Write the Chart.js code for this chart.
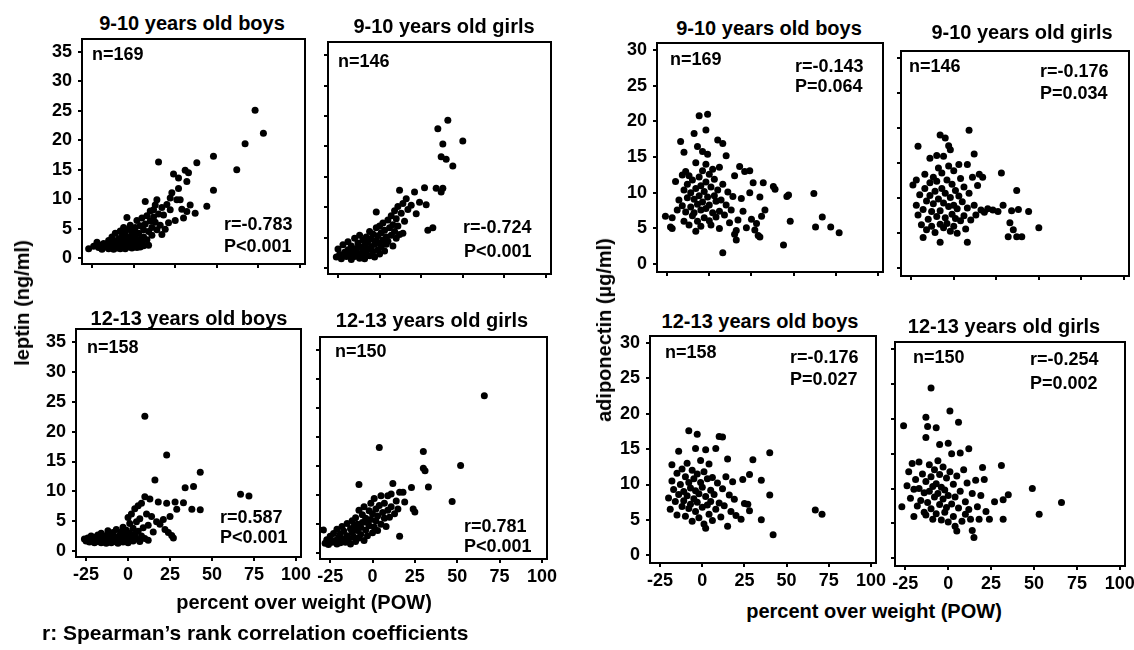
<!DOCTYPE html>
<html><head><meta charset="utf-8">
<script src="https://cdn.jsdelivr.net/npm/chart.js@4.4.1/dist/chart.umd.min.js"></script>
<style>
html,body{margin:0;padding:0;background:#fff;}
body{width:1134px;height:650px;position:relative;overflow:hidden;font-family:"Liberation Sans",Arial,sans-serif;color:#000;}
canvas{position:absolute;}
.t{position:absolute;white-space:nowrap;font-weight:bold;line-height:1;}
</style></head><body>
<script>
// ---------------- DATA ----------------
const xTicks = [-25, 0, 25, 50, 75, 100];
const leptinTicks = [0, 5, 10, 15, 20, 25, 30, 35];
const adipoTicks = [0, 5, 10, 15, 20, 25, 30];

const panelTitles = ['9-10 years old boys','9-10 years old girls','9-10 years old boys','9-10 years old girls',
                     '12-13 years old boys','12-13 years old girls','12-13 years old boys','12-13 years old girls'];
const nLabels = ['n=169','n=146','n=169','n=146','n=158','n=150','n=158','n=150'];
const rLabels = ['r=-0.783','r=-0.724','r=-0.143','r=-0.176','r=0.587','r=0.781','r=-0.176','r=-0.254'];
const pLabels = ['P<0.001','P<0.001','P=0.064','P=0.034','P<0.001','P<0.001','P=0.027','P=0.002'];

const leptinTitle = 'leptin (ng/ml)';
const adipoTitle = 'adiponectin (\u00b5g/ml)';
const xTitle = 'percent over weight (POW)';
const footnote = "r: Spearman\u2019s rank correlation coefficients";

// [POW, value] pairs
const leptinBoys910 = [[-27,1.6],[-24,2.0],[-22,2.7],[-21,1.8],[-20,2.2],[-19,1.5],[-18,2.5],[-17,1.9],[-16,2.1],[-15,3.0],[-15,1.6],[-14,2.3],[-13,1.8],[-13,3.6],[-12,2.6],[-12,1.5],[-11,2.0],[-11,4.2],[-10,2.9],[-10,1.7],[-9,3.3],[-9,2.2],[-8,1.6],[-8,4.6],[-8,2.8],[-7,3.8],[-7,2.1],[-6,1.8],[-6,2.6],[-6,5.2],[-5,3.1],[-5,4.4],[-5,1.6],[-4,2.3],[-4,3.6],[-4,6.9],[-3,1.9],[-3,2.8],[-3,4.9],[-2,3.3],[-2,2.1],[-2,5.6],[-1,1.7],[-1,4.1],[-1,2.6],[0,3.0],[0,1.9],[0,4.6],[1,2.3],[1,3.7],[1,5.2],[2,1.8],[2,2.9],[2,6.4],[3,4.2],[3,2.4],[4,3.2],[4,1.9],[4,5.5],[5,2.7],[5,6.8],[6,3.6],[6,4.8],[6,2.1],[7,9.6],[7,5.8],[8,3.1],[8,7.2],[9,2.2],[9,4.5],[10,6.3],[10,8.0],[11,5.2],[11,3.9],[12,7.0],[12,8.2],[13,9.0],[13,6.1],[14,9.9],[14,4.8],[15,16.3],[15,7.5],[16,5.6],[17,4.0],[17,8.6],[18,7.3],[19,4.9],[20,9.1],[21,6.0],[22,10.2],[22,8.2],[23,11.1],[24,14.3],[25,6.4],[26,9.9],[27,13.6],[27,11.8],[28,9.9],[29,8.3],[30,6.8],[31,14.9],[32,13.0],[32,7.9],[33,14.5],[34,9.0],[37,7.6],[38,16.2],[44,8.8],[48,11.5],[48,17.3],[62,15.0],[67,19.4],[73,25.1],[78,21.2]];

const leptinGirls910 = [[-26,1.8],[-25,3.1],[-24,2.2],[-23,1.5],[-22,3.8],[-21,2.6],[-20,1.9],[-19,4.3],[-19,3.0],[-18,2.2],[-17,1.4],[-17,3.6],[-16,2.7],[-15,4.9],[-15,1.9],[-14,3.2],[-13,2.4],[-13,4.1],[-12,1.6],[-12,5.4],[-11,3.4],[-11,2.1],[-10,4.6],[-10,2.8],[-9,3.7],[-9,1.5],[-8,5.1],[-8,2.4],[-7,3.1],[-7,4.3],[-6,2.0],[-6,6.0],[-5,3.5],[-5,4.8],[-4,2.7],[-4,5.6],[-3,3.9],[-3,1.8],[-2,9.2],[-2,4.5],[-2,6.6],[-1,3.0],[-1,5.3],[0,2.3],[0,4.1],[0,6.9],[1,3.5],[1,5.8],[2,4.6],[2,7.4],[3,2.8],[3,6.2],[4,3.9],[4,5.1],[5,7.9],[5,4.4],[6,6.6],[7,5.4],[7,8.6],[8,3.6],[8,7.1],[9,9.4],[9,6.0],[10,4.9],[10,8.1],[11,10.1],[11,6.9],[12,12.8],[12,5.5],[13,9.0],[14,5.7],[14,10.6],[15,7.7],[16,11.4],[17,9.6],[19,10.3],[21,12.5],[22,8.9],[24,10.8],[27,13.2],[28,10.4],[29,6.2],[32,6.6],[34,13.1],[37,12.5],[38,13.1],[35,22.9],[37,18.3],[38,20.4],[40,17.9],[41,24.3],[44,16.8],[50,20.9]];

const adipoBoys910 = [[-26,6.7],[-23,5.2],[-22,5.0],[-22,6.5],[-20,11.6],[-19,7.6],[-18,9.0],[-17,17.2],[-16,12.5],[-16,8.2],[-15,15.7],[-15,10.4],[-15,6.0],[-14,13.0],[-14,7.3],[-13,11.2],[-13,9.3],[-12,5.5],[-12,12.4],[-11,8.0],[-11,10.0],[-10,6.8],[-10,11.8],[-9,18.3],[-9,9.1],[-9,7.2],[-8,14.2],[-8,4.6],[-8,10.6],[-7,16.5],[-7,8.4],[-7,6.0],[-6,20.8],[-6,12.2],[-6,9.6],[-5,7.6],[-5,11.0],[-5,5.3],[-4,15.8],[-4,8.7],[-4,13.1],[-3,10.2],[-3,6.5],[-2,18.8],[-2,14.0],[-2,7.8],[-2,11.5],[-1,21.0],[-1,15.4],[-1,9.4],[0,6.1],[0,12.6],[0,8.3],[1,10.8],[1,5.5],[2,13.3],[2,7.2],[3,9.6],[3,11.9],[4,6.6],[4,8.8],[5,17.4],[5,10.4],[6,13.6],[6,7.4],[6,5.0],[7,9.0],[8,16.9],[8,11.2],[8,1.6],[9,6.9],[10,15.2],[10,8.3],[11,10.1],[12,5.8],[13,7.6],[14,9.5],[15,12.4],[15,4.2],[16,3.4],[16,4.7],[17,6.2],[18,13.7],[19,9.2],[20,7.4],[21,13.0],[22,5.1],[24,13.1],[24,10.0],[25,6.3],[26,11.4],[27,4.8],[28,5.7],[29,4.0],[30,9.4],[30,3.8],[31,6.7],[32,11.4],[33,7.6],[38,10.9],[39,10.5],[44,2.7],[46,9.5],[47,9.7],[48,6.0],[62,9.9],[63,5.2],[67,6.6],[72,5.2],[77,4.4]];

const adipoGirls910 = [[-24,11.9],[-22,12.6],[-21,17.4],[-22,9.0],[-21,7.6],[-20,10.5],[-19,6.2],[-18,4.4],[-18,8.4],[-17,11.4],[-17,13.4],[-16,5.5],[-16,9.6],[-15,7.0],[-14,12.2],[-14,15.7],[-14,10.4],[-13,8.1],[-13,6.0],[-12,13.0],[-12,9.2],[-11,11.0],[-11,5.1],[-10,16.1],[-10,7.4],[-10,12.4],[-9,9.9],[-9,14.3],[-8,19.0],[-8,3.7],[-8,8.2],[-8,6.3],[-7,11.4],[-7,13.6],[-6,16.0],[-6,9.3],[-6,5.8],[-5,18.6],[-5,7.2],[-5,10.7],[-4,12.6],[-4,6.4],[-3,17.5],[-3,8.8],[-3,14.6],[-2,16.9],[-2,5.3],[-2,10.1],[-1,7.7],[-1,12.0],[0,9.0],[0,6.0],[0,13.9],[1,11.1],[1,7.1],[2,8.5],[2,5.0],[3,14.8],[3,10.3],[4,6.8],[4,12.8],[5,9.5],[6,7.5],[6,11.6],[7,5.6],[8,14.8],[8,8.6],[8,3.7],[9,19.7],[9,10.7],[10,6.9],[11,13.0],[12,16.3],[12,9.0],[13,7.6],[14,11.8],[15,13.4],[16,8.3],[17,13.0],[18,8.0],[20,8.5],[23,8.3],[26,8.1],[28,13.6],[29,9.0],[32,4.5],[33,6.5],[34,8.2],[35,5.5],[37,11.1],[37,4.5],[38,8.4],[40,4.5],[44,8.1],[50,5.8]];

const leptinBoys1213 = [[-26,2.0],[-25,1.7],[-24,2.2],[-23,1.5],[-22,2.5],[-21,1.8],[-20,1.4],[-20,2.3],[-19,1.9],[-18,1.6],[-18,2.7],[-17,2.1],[-16,1.4],[-16,3.0],[-15,1.8],[-15,2.4],[-14,1.5],[-14,2.0],[-13,2.6],[-13,1.3],[-12,1.9],[-12,3.4],[-11,2.2],[-11,1.6],[-10,2.8],[-10,1.4],[-9,2.0],[-9,3.1],[-8,1.7],[-8,2.4],[-7,1.5],[-7,3.6],[-6,2.1],[-6,1.3],[-5,2.7],[-5,1.8],[-4,3.2],[-4,2.3],[-3,1.5],[-3,4.0],[-2,2.0],[-2,2.9],[-1,1.6],[-1,3.5],[0,2.4],[0,5.6],[0,1.4],[1,4.6],[1,3.0],[1,1.9],[2,2.4],[2,6.2],[3,3.8],[3,1.7],[4,7.1],[4,2.8],[5,4.9],[5,2.0],[6,7.6],[6,3.3],[7,1.6],[7,5.4],[8,8.0],[8,2.5],[9,3.9],[10,9.1],[10,22.6],[10,2.1],[11,6.2],[12,4.3],[12,1.8],[13,8.7],[14,5.8],[15,3.2],[16,11.9],[17,4.9],[18,8.2],[19,4.5],[21,5.3],[22,3.6],[23,8.0],[23,16.1],[24,3.1],[25,5.8],[26,2.6],[27,2.2],[28,8.2],[29,7.0],[33,8.1],[34,10.6],[38,7.0],[39,10.8],[43,6.9],[43,13.2],[67,9.5],[72,9.2]];

const leptinGirls1213 = [[-29,4.0],[-28,1.7],[-27,2.3],[-26,1.5],[-25,2.9],[-24,1.9],[-23,3.4],[-22,2.2],[-21,1.6],[-21,4.1],[-20,2.7],[-19,3.3],[-19,1.8],[-18,4.6],[-17,2.4],[-17,3.8],[-16,1.9],[-15,3.0],[-15,5.1],[-14,2.5],[-13,4.2],[-13,1.6],[-12,3.5],[-12,5.6],[-11,2.8],[-11,4.6],[-10,6.1],[-10,2.0],[-9,3.9],[-9,5.0],[-8,11.8],[-8,2.6],[-8,7.4],[-7,4.4],[-7,3.2],[-6,6.6],[-6,5.3],[-5,2.2],[-5,8.0],[-4,4.0],[-4,6.0],[-3,5.3],[-3,3.0],[-2,7.3],[-2,4.7],[-1,8.6],[-1,5.8],[0,3.5],[0,6.8],[1,4.5],[1,9.4],[2,5.6],[2,7.6],[3,3.9],[3,6.4],[4,18.2],[4,8.2],[5,5.0],[5,9.9],[6,7.0],[7,6.0],[7,8.6],[8,4.6],[9,9.9],[9,7.4],[10,6.2],[11,10.2],[11,8.0],[12,12.0],[13,6.8],[14,9.0],[15,7.6],[16,2.9],[16,10.5],[18,10.5],[19,8.8],[23,11.3],[24,7.6],[25,7.1],[30,17.5],[30,14.6],[31,14.2],[33,11.4],[47,8.9],[52,15.1],[66,27.1]];

const adipoBoys1213 = [[-20,8.1],[-19,6.5],[-18,12.8],[-18,10.5],[-17,9.3],[-16,7.6],[-15,5.7],[-15,11.6],[-14,14.7],[-14,8.6],[-13,10.0],[-12,6.9],[-12,12.2],[-11,9.0],[-11,7.7],[-10,11.1],[-10,5.5],[-9,13.0],[-9,8.4],[-8,17.6],[-8,10.3],[-8,6.6],[-7,9.5],[-7,7.2],[-6,12.0],[-6,4.8],[-5,8.0],[-5,10.8],[-4,15.1],[-4,6.2],[-4,9.1],[-3,17.1],[-3,11.5],[-3,7.5],[-2,5.3],[-2,8.7],[-1,10.3],[-1,13.4],[0,6.8],[0,9.6],[1,4.4],[1,11.8],[2,3.8],[2,14.9],[2,8.3],[3,7.1],[3,10.8],[4,12.9],[4,5.8],[5,9.2],[5,7.6],[6,11.0],[6,4.9],[7,8.6],[8,15.1],[8,6.5],[9,10.2],[10,16.8],[10,7.4],[11,5.4],[12,9.4],[12,16.7],[13,7.0],[14,11.1],[15,13.6],[15,4.1],[16,8.5],[17,6.2],[18,10.4],[19,7.9],[20,5.6],[23,5.1],[24,10.7],[25,7.3],[27,7.2],[28,11.4],[28,6.3],[30,13.5],[35,10.6],[35,5.0],[40,14.5],[40,8.5],[42,2.9],[67,6.4],[71,5.8]];

const adipoGirls1213 = [[-27,7.4],[-26,19.0],[-24,10.4],[-23,12.4],[-22,8.6],[-21,13.6],[-20,6.0],[-20,9.9],[-19,11.3],[-18,7.5],[-17,13.8],[-17,10.0],[-16,8.3],[-15,12.1],[-14,9.4],[-14,6.6],[-13,20.2],[-13,17.3],[-13,6.2],[-13,11.0],[-12,18.9],[-12,8.0],[-11,13.4],[-11,9.6],[-10,24.4],[-10,7.1],[-10,11.7],[-9,10.3],[-9,5.6],[-8,12.7],[-8,8.8],[-7,18.7],[-7,6.4],[-7,10.7],[-6,9.3],[-6,14.0],[-5,16.3],[-5,7.7],[-5,12.0],[-4,10.2],[-4,5.5],[-3,8.5],[-3,13.1],[-2,6.6],[-2,9.8],[-1,11.5],[-1,7.3],[0,16.5],[0,5.2],[0,9.0],[1,21.1],[1,12.4],[2,15.0],[2,7.8],[3,10.6],[3,6.0],[4,8.8],[4,4.6],[5,11.8],[5,3.9],[6,19.5],[6,7.2],[7,15.1],[7,9.6],[8,5.3],[9,12.7],[10,8.1],[10,6.3],[11,10.8],[12,15.7],[12,7.0],[13,5.6],[14,9.3],[14,4.0],[15,3.0],[16,11.2],[17,7.4],[18,5.6],[19,9.0],[20,13.0],[21,11.3],[22,6.7],[24,5.6],[27,8.1],[31,13.3],[32,8.4],[32,5.6],[35,9.1],[49,10.0],[53,6.3],[66,8.0]];

// ---------------- LAYOUT ----------------
const panels = [
  {data: leptinBoys910,   kind:'leptin', box:[82,39,305,264],  yLab:true,  xLab:false, title:[192,30],  n:[92,60],   r:[224,230],  p:[224,252]},
  {data: leptinGirls910,  kind:'leptin', box:[328,42,551,274], yLab:false, xLab:false, title:[444,33],  n:[338,67],  r:[463,233],  p:[464,257]},
  {data: adipoBoys910,    kind:'adipo',  box:[657,43,883,272], yLab:true,  xLab:false, title:[769,35],  n:[670,65],  r:[795,72],   p:[795,92]},
  {data: adipoGirls910,   kind:'adipo',  box:[901,51,1129,276],yLab:false, xLab:false, title:[1022,39], n:[909,72],  r:[1040,77],  p:[1040,99]},
  {data: leptinBoys1213,  kind:'leptin', box:[76,329,301,557], yLab:true,  xLab:true,  title:[189,325], n:[87,353],  r:[220,523],  p:[220,543]},
  {data: leptinGirls1213, kind:'leptin', box:[320,337,547,559],yLab:false, xLab:true,  title:[432,327], n:[335,357], r:[464,532],  p:[464,552]},
  {data: adipoBoys1213,   kind:'adipo',  box:[650,336,876,563],yLab:true,  xLab:true,  title:[760,328], n:[665,358], r:[790,363],  p:[790,385]},
  {data: adipoGirls1213,  kind:'adipo',  box:[895,342,1125,566],yLab:false,xLab:true,  title:[1004,333],n:[913,363], r:[1030,365], p:[1030,389]}
];
const xRange = [-31, 103];
const yRanges = {leptin:[-1, 37.2], adipo:[-1.1, 31]};
const yTicksFor = {leptin: leptinTicks, adipo: adipoTicks};

const FONT = '"Liberation Sans", Arial, sans-serif';

function addText(str, x, baseline, size, align) {
  const d = document.createElement('div');
  d.className = 't';
  d.textContent = str;
  d.style.fontSize = size + 'px';
  d.style.top = (baseline - 0.8465 * size) + 'px';
  d.style.left = x + 'px';
  if (align === 'center') d.style.transform = 'translateX(-50%)';
  document.body.appendChild(d);
}
function addVText(str, cx, cy, size) {
  const d = document.createElement('div');
  d.className = 't';
  d.textContent = str;
  d.style.fontSize = size + 'px';
  d.style.left = cx + 'px';
  d.style.top = cy + 'px';
  d.style.transform = 'translate(-50%,-50%) rotate(-90deg)';
  document.body.appendChild(d);
}

const framePlugin = {
  id: 'frame',
  afterDraw(chart) {
    const a = chart.chartArea, ctx = chart.ctx;
    ctx.save();
    ctx.strokeStyle = '#000';
    ctx.lineWidth = 2;
    ctx.strokeRect(a.left, a.top, a.right - a.left, a.bottom - a.top);
    ctx.restore();
  }
};

const YW = 45, PADT = 4, PADR = 22, XH = 34;

panels.forEach((pn, i) => {
  const [L, T, R, B] = pn.box;
  const w = R - L + YW + PADR, h = B - T + PADT + XH;
  const cv = document.createElement('canvas');
  cv.width = w; cv.height = h;
  cv.style.left = (L - YW) + 'px';
  cv.style.top = (T - PADT) + 'px';
  cv.style.width = w + 'px';
  cv.style.height = h + 'px';
  document.body.appendChild(cv);
  const yt = yTicksFor[pn.kind];
  new Chart(cv, {
    type: 'scatter',
    data: {datasets: [{
      data: pn.data.map(p => ({x: p[0], y: p[1]})),
      backgroundColor: '#000', borderColor: '#000', borderWidth: 0,
      pointRadius: 3.5, pointHoverRadius: 3.5
    }]},
    options: {
      responsive: false, animation: false, devicePixelRatio: 1, events: [],
      layout: {padding: {left: 0, top: PADT, right: PADR, bottom: 0}},
      plugins: {legend: {display: false}, tooltip: {enabled: false}, title: {display: false}},
      scales: {
        x: {
          type: 'linear', position: 'bottom', min: xRange[0], max: xRange[1],
          afterBuildTicks: s => { s.ticks = xTicks.map(v => ({value: v})); },
          afterFit: s => { s.height = XH; s.paddingLeft = 0; s.paddingRight = 0; s.paddingTop = 0; s.paddingBottom = 0; },
          ticks: {display: pn.xLab, color: '#000', padding: 3, maxRotation: 0, autoSkip: false,
                  font: {family: FONT, size: 18, weight: 'bold'}},
          grid: {drawOnChartArea: false, drawTicks: true, tickLength: 4, color: '#000', lineWidth: 2},
          border: {display: true, color: '#000', width: 2}
        },
        y: {
          type: 'linear', position: 'left', min: yRanges[pn.kind][0], max: yRanges[pn.kind][1],
          afterBuildTicks: s => { s.ticks = yt.map(v => ({value: v})); },
          afterFit: s => { s.width = YW; s.paddingTop = 0; s.paddingBottom = 0; s.paddingLeft = 0; s.paddingRight = 0; },
          ticks: {display: pn.yLab, color: '#000', padding: 6, autoSkip: false,
                  font: {family: FONT, size: 18, weight: 'bold'}},
          grid: {drawOnChartArea: false, drawTicks: true, tickLength: 4, color: '#000', lineWidth: 2},
          border: {display: true, color: '#000', width: 2}
        }
      }
    },
    plugins: [framePlugin]
  });
  addText(panelTitles[i], pn.title[0], pn.title[1], 20, 'center');
  addText(nLabels[i], pn.n[0], pn.n[1], 18, 'left');
  addText(rLabels[i], pn.r[0], pn.r[1], 18, 'left');
  addText(pLabels[i], pn.p[0], pn.p[1], 18, 'left');
});

addVText(leptinTitle, 22, 303, 20);
addVText(adipoTitle, 604, 330, 20);
addText(xTitle, 304, 609, 20, 'center');
addText(xTitle, 874, 618, 20, 'center');
addText(footnote, 42, 640, 21, 'left');
</script>
</body></html>
